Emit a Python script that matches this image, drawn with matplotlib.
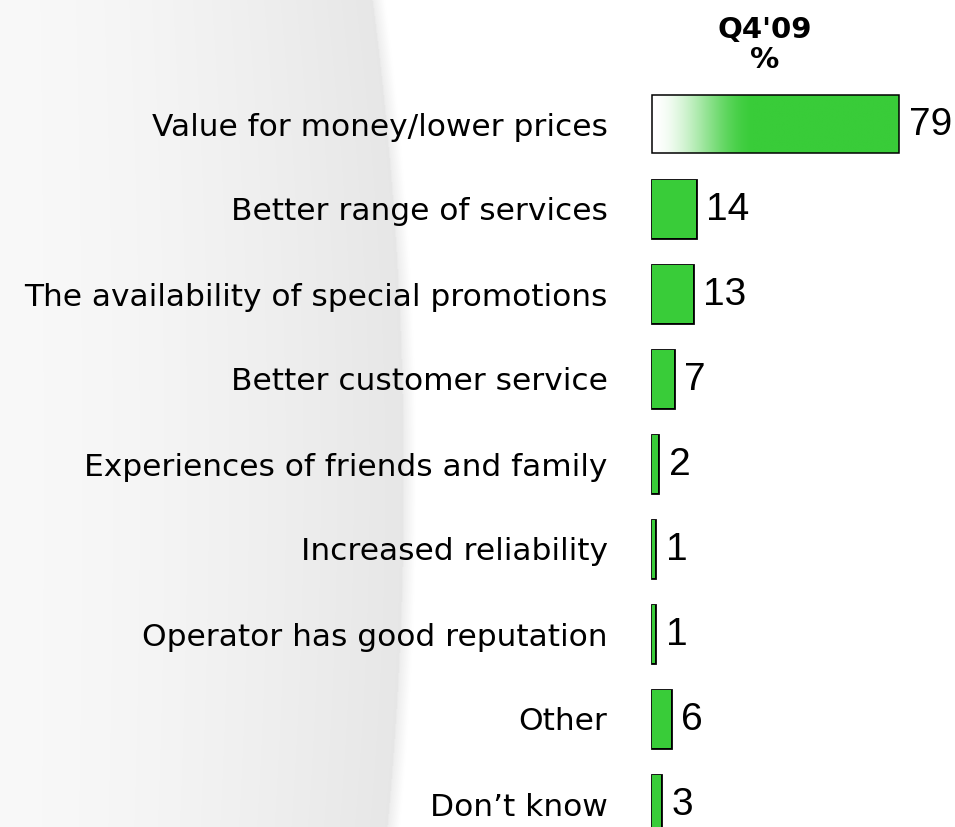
import numpy as np
import matplotlib
matplotlib.use("Agg")
import matplotlib.pyplot as plt
import matplotlib.patheffects as pe
from matplotlib.colors import LinearSegmentedColormap

categories = [
    "Value for money/lower prices",
    "Better range of services",
    "The availability of special promotions",
    "Better customer service",
    "Experiences of friends and family",
    "Increased reliability",
    "Operator has good reputation",
    "Other",
    "Don\u2019t know",
]
values = [79, 14, 13, 7, 2, 1, 1, 6, 3]
title_lines = ["Q4'09", "%"]

GREEN = "#39CC39"
W, H = 955, 827
fig = plt.figure(figsize=(W / 100, H / 100), dpi=100)

# background: grey curved panel on the left
bg = fig.add_axes([0, 0, 1, 1], zorder=0)
yy, xx = np.mgrid[0:H, 0:W].astype(float)
edge = 403 - 31 * ((yy - 480) / 480) ** 2
shade = 0.975 - 0.07 * np.clip(xx / edge, 0, 1) ** 1.5
inside = xx < edge
soft = np.clip((xx - edge) / 12.0, 0, 1)
img = np.where(inside, shade, 0.93 + (1 - 0.93) * soft)
img = np.where(xx > edge + 12, 1.0, img)
bg.imshow(np.dstack([img] * 3), extent=(0, W, H, 0), aspect="auto", interpolation="bilinear")
bg.set_xlim(0, W)
bg.set_ylim(H, 0)
bg.axis("off")

px_per_unit = 247 / 79
left_px = 652
ax = fig.add_axes([left_px / W, 0, (W - left_px) / W, 1], zorder=1)
ax.patch.set_alpha(0)
spacing = 85.0
y0 = 124.0
ylim = ((H - y0) / spacing, -y0 / spacing)
xlim = (0, (W - left_px) / px_per_unit)

pos = np.arange(len(categories))
bars = ax.barh(pos, values, height=0.68, color=GREEN, edgecolor="none", zorder=2)
for b in bars[1:]:
    b.set_clip_on(False)
    b.set_path_effects([pe.Stroke(linewidth=2.0, foreground="black"), pe.Normal()])

# gradient in first bar
b0 = bars[0]
b0.set_clip_on(False)
b0.set_facecolor("none")
b0.set_edgecolor("black")
b0.set_linewidth(1.1)
cmap = LinearSegmentedColormap.from_list("g", ["#ffffff", GREEN])
xs = np.linspace(0, 1, 400)
t = np.clip(xs / 0.42, 0, 1)
t = t * t * (3 - 2 * t)
grad = np.vstack([t, t])
im = ax.imshow(grad, cmap=cmap, vmin=0, vmax=1, aspect="auto",
               extent=(0, values[0], pos[0] + 0.34, pos[0] - 0.34), zorder=1.5,
               interpolation="bilinear")
im.set_clip_path(b0)
ax.set_ylim(*ylim)
ax.set_xlim(*xlim)

for p, v in zip(pos, values):
    ax.annotate(str(v), (v, p), xytext=(7.5, -1), textcoords="offset points",
                ha="left", va="center", fontsize=28, family="Liberation Sans", color="black")

ax.set_yticks(pos)
ax.set_yticklabels(categories, fontsize=22.5, family="DejaVu Sans")
ax.tick_params(axis="y", length=0, pad=32)
ax.set_xticks([])
for s in ax.spines.values():
    s.set_visible(False)

fig.text(765 / W, 1 - 38 / H, title_lines[0], ha="center", va="baseline",
         fontsize=21, fontweight="bold", family="DejaVu Sans")
fig.text(765 / W, 1 - 68 / H, title_lines[1], ha="center", va="baseline",
         fontsize=21, fontweight="bold", family="DejaVu Sans")

fig.savefig("out.png", dpi=100)
